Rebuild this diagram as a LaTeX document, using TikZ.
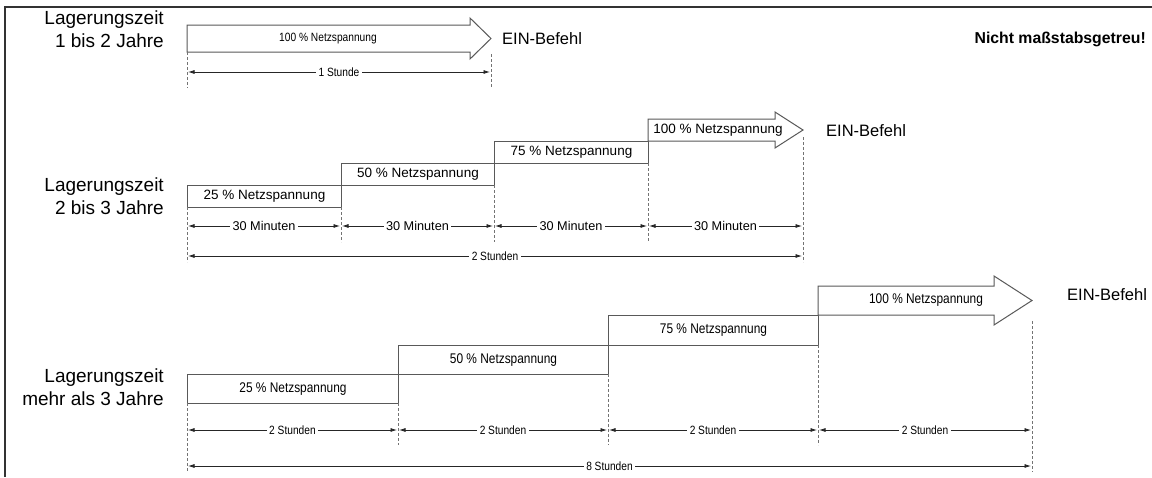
\documentclass[tikz,border=0pt]{standalone}
\usepackage{fontspec}
\setmainfont{Liberation Sans}
\newfontfamily\narrowfont[FakeStretch=0.85]{Liberation Sans}
\usetikzlibrary{arrows.meta}
\tikzset{
  frameline/.style={line width=1.6pt, draw=black!80},
  stepbox/.style={draw=black!65, line width=1pt, fill=white, inner sep=0pt, anchor=north west},
  arrowshape/.style={draw=black!65, line width=1pt, fill=white, line join=miter},
  guide/.style={draw=black!55, dash pattern=on 3pt off 2pt, line width=0.8pt},
  dimline/.style={draw=black!85, line width=0.75pt, {Latex[length=6.5pt,width=4pt]}-{Latex[length=6.5pt,width=4pt]}, shorten <=1pt, shorten >=1pt},
  dimlabel/.style={fill=white, inner sep=2.5pt},
  title/.style={font=\fontsize{19}{23}\selectfont, align=right, anchor=east, inner sep=0pt},
  ein/.style={font=\fontsize{16.5}{20}\selectfont, anchor=west, inner sep=0pt},
  lblA/.style={font=\narrowfont\fontsize{12}{14}\selectfont},
  lblB/.style={font=\fontsize{13.5}{16}\selectfont},
  lblC/.style={font=\narrowfont\fontsize{14}{16}\selectfont},
  dimA/.style={font=\narrowfont\fontsize{12}{14}\selectfont},
  dimB/.style={font=\fontsize{12.7}{15}\selectfont},
}
\begin{document}
\begin{tikzpicture}[x=1pt,y=-1pt]
\useasboundingbox[fill=white] (0,0) rectangle (1152,477);
% frame
\coordinate (fTL) at (5,7);
\coordinate (fTR) at (1152,7);
\coordinate (fBL) at (5,477);
\draw[frameline] (fTR) -- (fTL) -- (fBL);

% ================= Section 1 =================
\node[title] (t1) at (164,29) {Lagerungszeit\\1 bis 2 Jahre};
\draw[arrowshape] (187,25) -- (470,25) -- (470,18) -- (491,38.5) -- (470,59) -- (470,52) -- (187,52) -- cycle;
\node[lblA] (a1) at (328,38.5) {100 \% Netzspannung};
\node[ein] (e1) at (502,39) {EIN-Befehl};
\node[font=\bfseries\fontsize{15.8}{18}\selectfont, anchor=east, inner sep=0pt] (nm) at (1146,39) {Nicht maßstabsgetreu!};
\coordinate (g1a0) at (187,52);  \coordinate (g1a1) at (187,88);
\coordinate (g1b0) at (491,54);  \coordinate (g1b1) at (491,88);
\draw[guide] (g1a0) -- (g1a1);
\draw[guide] (g1b0) -- (g1b1);
\coordinate (d1a) at (187,72); \coordinate (d1b) at (491,72);
\draw[dimline] (d1a) -- node[dimlabel,dimA] (l1) {1 Stunde} (d1b);

% ================= Section 2 =================
\node[title] (t2) at (164,196) {Lagerungszeit\\2 bis 3 Jahre};
\node[stepbox, minimum width=154pt, minimum height=22pt, lblB] (s2b1) at (187,185) {25 \% Netzspannung};
\node[stepbox, minimum width=153pt, minimum height=22pt, lblB] (s2b2) at (341,163) {50 \% Netzspannung};
\node[stepbox, minimum width=154pt, minimum height=22pt, lblB] (s2b3) at (494,141) {75 \% Netzspannung};
\draw[arrowshape] (648,119) -- (775,119) -- (775,112) -- (803,130) -- (775,148) -- (775,141) -- (648,141) -- cycle;
\node[lblB] (a2) at (718,130) {100 \% Netzspannung};
\node[ein] (e2) at (826,131) {EIN-Befehl};
% guides
\coordinate (g2a0) at (187,207); \coordinate (g2a1) at (187,262);
\coordinate (g2b0) at (341,207); \coordinate (g2b1) at (341,242);
\coordinate (g2c0) at (494,185); \coordinate (g2c1) at (494,242);
\coordinate (g2d0) at (648,163); \coordinate (g2d1) at (648,242);
\coordinate (g2e0) at (803,137); \coordinate (g2e1) at (803,262);
\foreach \g in {a,b,c,d,e} {\draw[guide] (g2\g0) -- (g2\g1);}
% dims
\coordinate (d2a) at (187,226); \coordinate (d2b) at (341,226);
\coordinate (d2c) at (494,226); \coordinate (d2d) at (648,226);
\coordinate (d2e) at (803,226);
\draw[dimline] (d2a) -- node[dimlabel,dimB] (l2a) {30 Minuten} (d2b);
\draw[dimline] (d2b) -- node[dimlabel,dimB] (l2b) {30 Minuten} (d2c);
\draw[dimline] (d2c) -- node[dimlabel,dimB] (l2c) {30 Minuten} (d2d);
\draw[dimline] (d2d) -- node[dimlabel,dimB] (l2d) {30 Minuten} (d2e);
\coordinate (d2f) at (187,256); \coordinate (d2g) at (803,256);
\draw[dimline] (d2f) -- node[dimlabel,dimA] (l2e) {2 Stunden} (d2g);

% ================= Section 3 =================
\node[title] (t3) at (164,387) {Lagerungszeit\\mehr als 3 Jahre};
\node[stepbox, minimum width=211pt, minimum height=29pt, lblC] (s3b1) at (187,374) {25 \% Netzspannung};
\node[stepbox, minimum width=210pt, minimum height=29pt, lblC] (s3b2) at (398,345) {50 \% Netzspannung};
\node[stepbox, minimum width=210pt, minimum height=30pt, lblC] (s3b3) at (608,315) {75 \% Netzspannung};
\draw[arrowshape] (818,286) -- (994,286) -- (994,276) -- (1032,300.5) -- (994,325) -- (994,315) -- (818,315) -- cycle;
\node[lblC] (a3) at (926,300.5) {100 \% Netzspannung};
\node[ein] (e3) at (1067,295) {EIN-Befehl};
% guides
\coordinate (g3a0) at (187,403); \coordinate (g3a1) at (187,472);
\coordinate (g3b0) at (398,403); \coordinate (g3b1) at (398,445);
\coordinate (g3c0) at (608,374); \coordinate (g3c1) at (608,445);
\coordinate (g3d0) at (818,345); \coordinate (g3d1) at (818,445);
\coordinate (g3e0) at (1032,321); \coordinate (g3e1) at (1032,472);
\foreach \g in {a,b,c,d,e} {\draw[guide] (g3\g0) -- (g3\g1);}
% dims
\coordinate (d3a) at (187,430); \coordinate (d3b) at (398,430);
\coordinate (d3c) at (608,430); \coordinate (d3d) at (818,430);
\coordinate (d3e) at (1032,430);
\draw[dimline] (d3a) -- node[dimlabel,dimA] (l3a) {2 Stunden} (d3b);
\draw[dimline] (d3b) -- node[dimlabel,dimA] (l3b) {2 Stunden} (d3c);
\draw[dimline] (d3c) -- node[dimlabel,dimA] (l3c) {2 Stunden} (d3d);
\draw[dimline] (d3d) -- node[dimlabel,dimA] (l3d) {2 Stunden} (d3e);
\coordinate (d3f) at (187,466); \coordinate (d3g) at (1032,466);
\draw[dimline] (d3f) -- node[dimlabel,dimA] (l3e) {8 Stunden} (d3g);
\end{tikzpicture}
\end{document}
